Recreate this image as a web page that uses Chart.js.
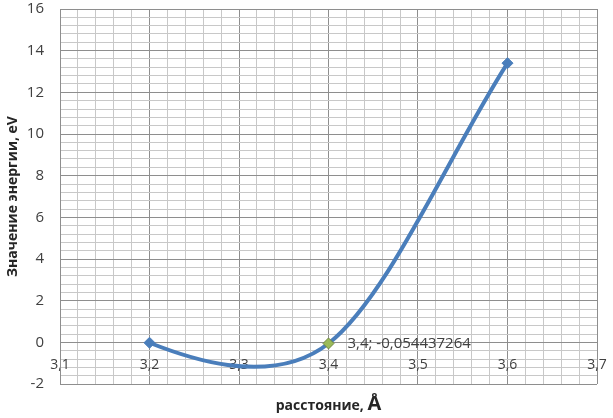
<!DOCTYPE html>
<html><head><meta charset="utf-8">
<script src="https://cdn.jsdelivr.net/npm/chart.js@4/dist/chart.umd.min.js"></script>
<style>html,body{margin:0;padding:0;background:#fff}#wrap{width:613px;height:418px}</style>
</head><body><div id="wrap"><canvas id="c" width="613" height="418"></canvas></div>
<script>
const distances = [3.2, 3.4, 3.6];
const energies = [-0.02, -0.054437264, 13.4];
const xTickLabels = ['3,1','3,2','3,3','3,4','3,5','3,6','3,7'];
const yTickLabels = ['-2','0','2','4','6','8','10','12','14','16'];
const yTitle = 'Значение энергии, eV';
const xTitleText = 'расстояние, ';
const xTitleUnit = 'Å';
const labelIndex = 1;
const pointLabel = '3,4; -0,054437264';

const X_MIN = 3.1, X_MAX = 3.7, Y_MIN = -2, Y_MAX = 16;
const FONT = '"Open Sans", "Liberation Sans", sans-serif';
const BLUE = '#4a7ebb';
const MAJOR = '#8e8e8e', MINOR = '#c8c8c8';

function majorIndexX(v){ const k = (v - X_MIN) * 10; return Math.abs(k - Math.round(k)) < 1e-6 ? Math.round(k) : -1; }
function majorIndexY(v){ const k = (v - Y_MIN) / 2; return Math.abs(k - Math.round(k)) < 1e-6 ? Math.round(k) : -1; }

// Spreadsheet-style smoothing (Catmull-Rom like) applied to the library's computed points
const smoothPlugin = {
  id: 'smooth',
  beforeDatasetDraw(chart, args){
    const meta = args.meta;
    meta.dataset.updateControlPoints(chart.chartArea, meta.indexAxis || 'x');
    const p = meta.data, n = p.length;
    for (let i = 1; i < n - 1; i++){
      const cur = p[i];
      const dx = (p[i+1].x - p[i-1].x) / 6, dy = (p[i+1].y - p[i-1].y) / 6;
      cur.cp1x = cur.x - dx; cur.cp1y = cur.y - dy;
      cur.cp2x = cur.x + dx; cur.cp2y = cur.y + dy;
    }
    if (n > 2){
      const a = p[0];
      a.cp1x = a.x; a.cp1y = a.y;
      a.cp2x = a.x + (p[1].cp1x - a.x) / 4; a.cp2y = a.y + (p[1].cp1y - a.y) / 4;
      const z = p[n-1];
      z.cp2x = z.x; z.cp2y = z.y;
      z.cp1x = z.x - (z.x - p[n-2].x) / 3; z.cp1y = z.y - (z.y - p[n-2].y) / 3;
    }
  }
};

const labelPlugin = {
  id: 'labels',
  afterDraw(chart){
    const ctx = chart.ctx;
    const meta = chart.getDatasetMeta(0);
    const pt = meta.data[labelIndex];
    ctx.save();
    ctx.fillStyle = '#404040';
    ctx.font = '15px ' + FONT;
    ctx.textAlign = 'left';
    ctx.textBaseline = 'middle';
    ctx.fillText(pointLabel, pt.x + 19, pt.y);
    const area = chart.chartArea;
    const cx = (area.left + area.right) / 2;
    const f1 = 'bold 14px ' + FONT, f2 = 'bold 20px ' + FONT;
    ctx.font = f1; const w1 = ctx.measureText(xTitleText).width;
    ctx.font = f2; const w2 = ctx.measureText(xTitleUnit).width;
    const x0 = cx - (w1 + w2) / 2;
    ctx.textBaseline = 'alphabetic';
    ctx.fillStyle = '#262626';
    ctx.font = f1; ctx.fillText(xTitleText, x0, 410);
    ctx.font = f2; ctx.fillText(xTitleUnit, x0 + w1, 410);
    ctx.restore();
  }
};

new Chart(document.getElementById('c'), {
  type: 'line',
  data: {
    datasets: [{
      data: distances.map((x, i) => ({x: x, y: energies[i]})),
      borderColor: BLUE,
      borderWidth: 4,
      tension: 0.4,
      pointStyle: 'rectRot',
      pointRadius: 5.5,
      pointBackgroundColor: distances.map((d, i) => i === labelIndex ? '#9bbb59' : BLUE),
      pointBorderColor: distances.map((d, i) => i === labelIndex ? '#71893f' : BLUE),
      pointBorderWidth: 1,
      clip: false
    }]
  },
  options: {
    responsive: false,
    animation: false,
    devicePixelRatio: 1,
    layout: { padding: { left: 1, top: 9, right: 16, bottom: 34 } },
    plugins: { legend: { display: false }, tooltip: { enabled: false } },
    scales: {
      x: {
        type: 'linear',
        position: { y: 0 },
        min: X_MIN, max: X_MAX,
        afterFit: s => { s.paddingLeft = 0; s.paddingRight = 0; s.paddingTop = 0; s.paddingBottom = 0; },
        grid: {
          drawTicks: false,
          color: c => (majorIndexX(c.tick.value) >= 0 ? MAJOR : MINOR),
          lineWidth: 1
        },
        border: { color: MAJOR },
        ticks: {
          stepSize: 0.02,
          autoSkip: false,
          maxRotation: 0, minRotation: 0,
          padding: 14,
          color: '#404040',
          font: { family: FONT, size: 14 },
          callback: v => { const k = majorIndexX(v); return k >= 0 ? xTickLabels[k] : ''; }
        }
      },
      y: {
        min: Y_MIN, max: Y_MAX,
        afterFit: s => { s.width = 59; s.paddingTop = 0; s.paddingBottom = 0; s.paddingLeft = 0; s.paddingRight = 0; },
        grid: {
          drawTicks: false,
          color: c => (majorIndexY(c.tick.value) >= 0 ? MAJOR : MINOR),
          lineWidth: 1
        },
        border: { color: MAJOR },
        title: {
          display: true, text: yTitle, color: '#262626',
          font: { family: FONT, size: 14, weight: 'bold' },
          padding: { top: 4, bottom: 4 }
        },
        ticks: {
          stepSize: 0.4,
          autoSkip: false,
          padding: 16,
          color: '#404040',
          font: { family: FONT, size: 15 },
          callback: v => { const k = majorIndexY(v); return k >= 0 ? yTickLabels[k] : ''; }
        }
      }
    }
  },
  plugins: [smoothPlugin, labelPlugin]
});
</script>
</body></html>
